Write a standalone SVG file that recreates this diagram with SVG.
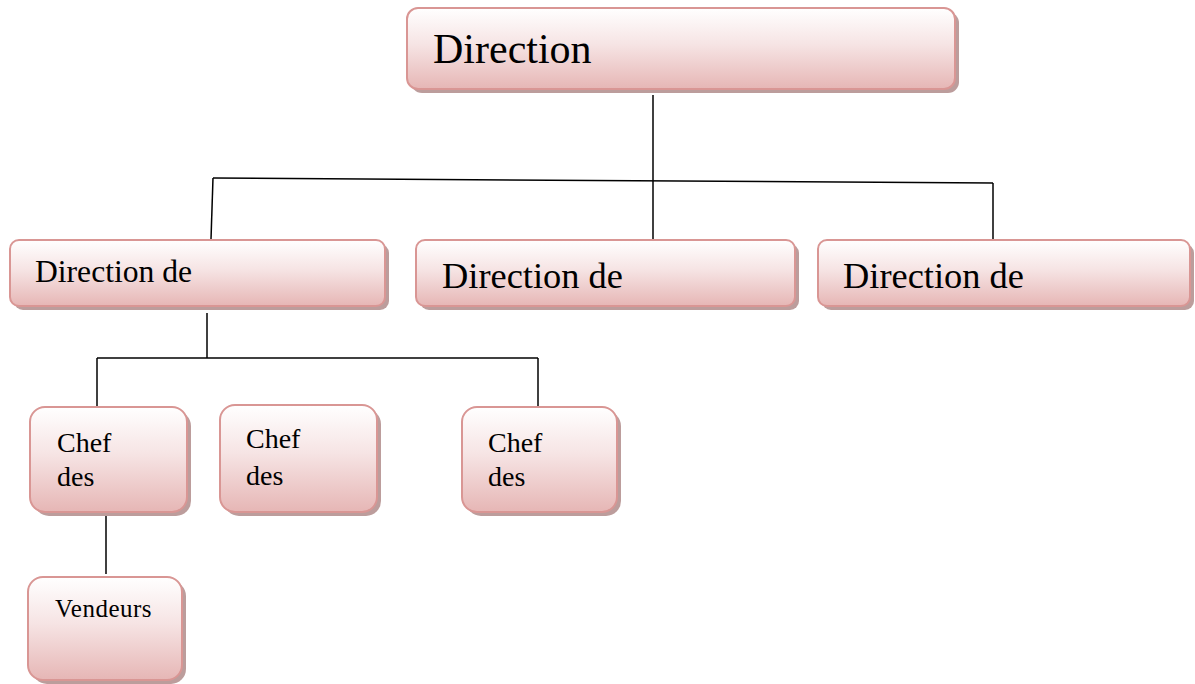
<svg xmlns="http://www.w3.org/2000/svg" width="1195" height="684" viewBox="0 0 1195 684">
  <defs>
    <linearGradient id="fillPink" x1="0" y1="0" x2="0" y2="1">
      <stop offset="0" stop-color="#ffffff"/>
      <stop offset="0.45" stop-color="#f6e4e4"/>
      <stop offset="1" stop-color="#e6b6b5"/>
    </linearGradient>
  </defs>
  <style>
    .box { fill: url(#fillPink); stroke: #d99694; stroke-width: 2; }
    .shadow { fill: #b08c8b; opacity: 0.85; }
    .lbl { font-family: "Liberation Serif", "Times New Roman", serif; fill: #000; }
    .conn line { stroke: #000; stroke-width: 1.5; }
  </style>

  <g class="conn" id="connectors">
    <line x1="653" y1="95" x2="653" y2="240"/>
    <line x1="213" y1="178" x2="993" y2="183"/>
    <line x1="213" y1="178" x2="211" y2="239"/>
    <line x1="993" y1="183" x2="993" y2="240"/>
    <line x1="207" y1="313" x2="207" y2="358"/>
    <line x1="97" y1="358" x2="538" y2="358"/>
    <line x1="97" y1="358" x2="97" y2="407"/>
    <line x1="538" y1="358" x2="538" y2="407"/>
    <line x1="106" y1="516" x2="106" y2="574"/>
  </g>

  <g id="direction">
    <rect class="shadow" x="411" y="12" width="548" height="81" rx="11"/>
    <rect class="box" x="407" y="8" width="548" height="81" rx="11"/>
    <text class="lbl" x="433" y="63" font-size="42">Direction</text>
  </g>

  <g id="direction-de-1">
    <rect class="shadow" x="14" y="244" width="375" height="66" rx="9"/>
    <rect class="box" x="10" y="240" width="375" height="66" rx="9"/>
    <text class="lbl" x="35" y="282" font-size="31.6">Direction de</text>
  </g>

  <g id="direction-de-2">
    <rect class="shadow" x="420" y="244" width="379" height="66" rx="9"/>
    <rect class="box" x="416" y="240" width="379" height="66" rx="9"/>
    <text class="lbl" x="442" y="288" font-size="36.4">Direction de</text>
  </g>

  <g id="direction-de-3">
    <rect class="shadow" x="822" y="244" width="372" height="66" rx="9"/>
    <rect class="box" x="818" y="240" width="372" height="66" rx="9"/>
    <text class="lbl" x="843" y="288" font-size="36.4">Direction de</text>
  </g>

  <g id="chef-1">
    <rect class="shadow" x="34" y="411" width="157" height="105" rx="15"/>
    <rect class="box" x="30" y="407" width="157" height="105" rx="15"/>
    <text class="lbl" x="57" y="452" font-size="28">Chef</text>
    <text class="lbl" x="57" y="486" font-size="28">des</text>
  </g>

  <g id="chef-2">
    <rect class="shadow" x="224" y="409" width="157" height="107" rx="15"/>
    <rect class="box" x="220" y="405" width="157" height="107" rx="15"/>
    <text class="lbl" x="246" y="448" font-size="28">Chef</text>
    <text class="lbl" x="246" y="485" font-size="28">des</text>
  </g>

  <g id="chef-3">
    <rect class="shadow" x="466" y="411" width="155" height="105" rx="15"/>
    <rect class="box" x="462" y="407" width="155" height="105" rx="15"/>
    <text class="lbl" x="488" y="452" font-size="28">Chef</text>
    <text class="lbl" x="488" y="486" font-size="28">des</text>
  </g>

  <g id="vendeurs">
    <rect class="shadow" x="32" y="581" width="154" height="103" rx="15"/>
    <rect class="box" x="28" y="577" width="154" height="103" rx="15"/>
    <text class="lbl" x="55" y="617" font-size="25" letter-spacing="0.5">Vendeurs</text>
  </g>
</svg>
